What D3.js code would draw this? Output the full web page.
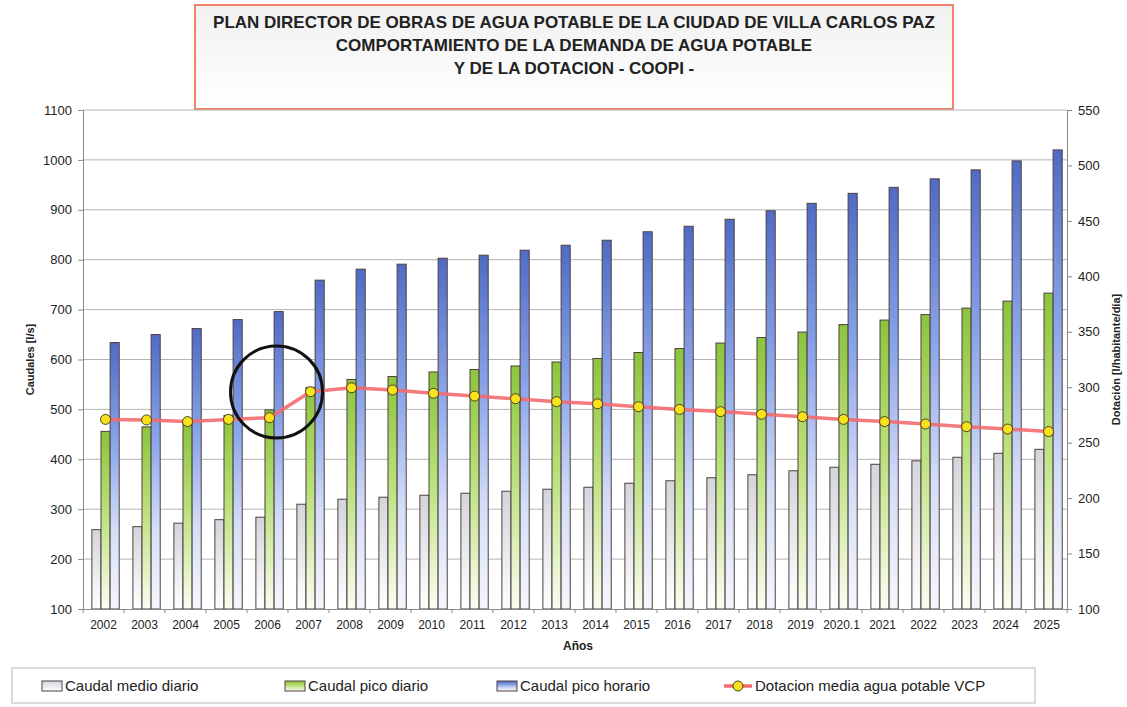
<!DOCTYPE html>
<html>
<head>
<meta charset="utf-8">
<script src="https://cdn.jsdelivr.net/npm/d3@7"></script>
<style>
  body { margin: 0; background: #fff; }
  text { font-family: "Liberation Sans", Arial, sans-serif; fill: #222; }
  .narrow { font-family: "Liberation Sans Narrow", "Arial Narrow", "Liberation Sans", Arial, sans-serif; }
</style>
</head>
<body>
<script>
var years = ['2002','2003','2004','2005','2006','2007','2008','2009','2010','2011','2012','2013',
             '2014','2015','2016','2017','2018','2019','2020.1','2021','2022','2023','2024','2025']
var medioDiario = [259,265,272,279,284,310,320,324,328,332,336,340,344,352,357,363,369,377,384,390,397,404,412,420]
var picoDiario = [456,465,472,488,499,544,560,566,575,580,587,595,602,614,622,633,644,655,670,679,690,703,717,733]
var picoHorario = [634,650,662,680,696,759,781,791,803,809,819,829,839,856,867,881,898,913,933,945,962,980,998,1020]
var dotacion = [271,270.5,269,271,272.5,296,299.5,297.5,294.5,292,289.6,287,285,282.4,280,278,275.6,273.4,271,269,266.8,264.4,262.3,260]
var leftTicks = [100,200,300,400,500,600,700,800,900,1000,1100]
var rightTicks = [100,150,200,250,300,350,400,450,500,550]
var seriesNames = ['Caudal medio diario', 'Caudal pico diario', 'Caudal pico horario']
var lineName = 'Dotacion media agua potable VCP'
var titleLines = ['PLAN DIRECTOR DE OBRAS DE AGUA POTABLE DE LA CIUDAD DE VILLA CARLOS PAZ',
                  'COMPORTAMIENTO DE LA DEMANDA DE AGUA POTABLE',
                  'Y DE LA DOTACION - COOPI -']

var width = 1127, height = 707
var margin = {top: 110, right: 60, bottom: 98, left: 83}
var x0 = margin.left, x1 = width - margin.right, yTop = margin.top, yBot = height - margin.bottom

var svg = d3.select('body').append('svg')
    .attr('width', width)
    .attr('height', height)

var defs = svg.append('defs')
// bar gradients, dark on top fading toward the base
var grads = [
    {id: 'gMedio', stops: [['0%', '#d4d5dc'], ['100%', '#ffffff']]},
    {id: 'gPico', stops: [['0%', '#8cc43c'], ['45%', '#b9e07a'], ['100%', '#fbfdf2']]},
    {id: 'gHora', stops: [['0%', '#4f6bc4'], ['40%', '#8ea8ea'], ['70%', '#d3ddf7'], ['100%', '#f6f7fc']]},
    {id: 'gTitle', stops: [['0%', '#f1f1f1'], ['100%', '#ffffff']]}
]
grads.forEach(g => {
    var lg = defs.append('linearGradient').attr('id', g.id)
        .attr('x1', 0).attr('y1', 0).attr('x2', 0).attr('y2', 1)
    g.stops.forEach(s => lg.append('stop').attr('offset', s[0]).attr('stop-color', s[1]))
})
var fills = ['url(#gMedio)', 'url(#gPico)', 'url(#gHora)']

// title box
svg.append('rect')
    .attr('x', 195).attr('y', 5).attr('width', 758).attr('height', 104)
    .attr('fill', 'url(#gTitle)')
    .attr('stroke', '#f2826a').attr('stroke-width', 2)
svg.selectAll('.title')
    .data(titleLines).enter()
    .append('text')
    .attr('class', 'title narrow')
    .attr('x', 574)
    .attr('y', (d, i) => 28 + i * 23)
    .attr('text-anchor', 'middle')
    .style('font-size', '17px')
    .style('font-weight', 'bold')
    .text(d => d)

var x = d3.scaleBand().domain(years).range([x0, x1])
var xs = d3.scaleBand().domain([0, 1, 2]).range([0, x.bandwidth()]).paddingOuter(0.75).align(0.65)
var yL = d3.scaleLinear().domain([100, 1100]).range([yBot, yTop])
var yR = d3.scaleLinear().domain([100, 550]).range([yBot, yTop])

// gridlines
svg.append('g')
    .selectAll('line')
    .data(leftTicks.slice(1)).enter()
    .append('line')
    .attr('x1', x0).attr('x2', x1)
    .attr('y1', d => yL(d)).attr('y2', d => yL(d))
    .attr('stroke', '#b4b4b4')

// bars
var table = years.map((yr, i) => ({year: yr, vals: [medioDiario[i], picoDiario[i], picoHorario[i]]}))
var groups = svg.append('g').selectAll('.grp')
    .data(table).enter()
    .append('g')
    .attr('transform', d => `translate(${x(d.year)},0)`)
groups.selectAll('rect')
    .data(d => d.vals).enter()
    .append('rect')
    .attr('x', (d, i) => xs(i))
    .attr('width', xs.bandwidth())
    .attr('y', d => yL(d))
    .attr('height', d => yBot - yL(d))
    .attr('fill', (d, i) => fills[i])
    .attr('stroke', '#4e3f40')
    .attr('stroke-width', 1)

// axes
var axL = svg.append('g')
    .attr('transform', `translate(${x0},0)`)
    .call(d3.axisLeft(yL).tickValues(leftTicks).tickFormat(d3.format('d')).tickSize(5).tickPadding(6))
var axR = svg.append('g')
    .attr('transform', `translate(${x1},0)`)
    .call(d3.axisRight(yR).tickValues(rightTicks).tickFormat(d3.format('d')).tickSize(5).tickPadding(6))
;[axL, axR].forEach(a => {
    a.selectAll('text').style('font-size', '13px').attr('fill', '#333')
    a.select('.domain').attr('stroke', '#8a8a8a')
    a.selectAll('.tick line').attr('stroke', '#8a8a8a')
})

var axB = svg.append('g')
    .attr('transform', `translate(0,${yBot})`)
    .call(d3.axisBottom(x).tickSize(0).tickPadding(11))
axB.select('.domain').attr('stroke', '#8a8a8a')
axB.selectAll('text').attr('class', 'narrow').style('font-size', '12px').attr('fill', '#333')
axB.selectAll('.sep')
    .data(years.concat(['end'])).enter()
    .append('line')
    .attr('x1', (d, i) => x0 + i * x.step()).attr('x2', (d, i) => x0 + i * x.step())
    .attr('y1', 0).attr('y2', 4)
    .attr('stroke', '#8a8a8a')

// axis titles
svg.append('text')
    .attr('x', 578).attr('y', 650)
    .attr('text-anchor', 'middle')
    .style('font-size', '12px').style('font-weight', 'bold')
    .text('Años')
svg.append('text')
    .attr('transform', `translate(34,${(yTop + yBot) / 2}) rotate(-90)`)
    .attr('text-anchor', 'middle')
    .style('font-size', '11px').style('font-weight', 'bold')
    .text('Caudales [l/s]')
svg.append('text')
    .attr('transform', `translate(1120,${(yTop + yBot) / 2}) rotate(-90)`)
    .attr('text-anchor', 'middle')
    .style('font-size', '11px').style('font-weight', 'bold')
    .text('Dotación [l/habitante/día]')

// dotacion line
var cx = (d, i) => x(years[i]) + xs(1) + xs.bandwidth() / 2
var line = d3.line().x(cx).y(d => yR(d))
svg.append('path')
    .datum(dotacion)
    .attr('d', line)
    .attr('fill', 'none')
    .attr('stroke', '#f26b6f')
    .attr('stroke-width', 3.5)
    .attr('stroke-opacity', 0.9)
svg.append('g').selectAll('circle')
    .data(dotacion).enter()
    .append('circle')
    .attr('cx', cx)
    .attr('cy', d => yR(d))
    .attr('r', 5)
    .attr('fill', '#f7e21c')
    .attr('stroke', '#4a4020')
    .attr('stroke-width', 1)

// hand-drawn annotation circle around 2006-2007 step
svg.append('circle')
    .attr('cx', x('2006') + x.bandwidth() * 0.72)
    .attr('cy', yL(535))
    .attr('r', 46)
    .attr('fill', 'none')
    .attr('stroke', '#111')
    .attr('stroke-width', 3)

// legend
var leg = svg.append('g')
leg.append('rect')
    .attr('x', 12).attr('y', 668).attr('width', 1023).attr('height', 35)
    .attr('fill', '#fff').attr('stroke', '#b8b8b8')
var legX = [42, 285, 497]
var items = leg.selectAll('.legend')
    .data(seriesNames).enter()
    .append('g')
    .attr('transform', (d, i) => `translate(${legX[i]},681)`)
items.append('rect')
    .attr('width', 20).attr('height', 10)
    .attr('fill', (d, i) => fills[i])
    .attr('stroke', '#4e3f40')
items.append('text')
    .attr('class', 'narrow')
    .attr('x', 23).attr('y', 10)
    .style('font-size', '15px')
    .text(String)
var lg = leg.append('g').attr('transform', 'translate(724,686)')
lg.append('line').attr('x1', 0).attr('x2', 28)
    .attr('stroke', '#f26b6f').attr('stroke-width', 3.5)
lg.append('circle').attr('cx', 14).attr('r', 5)
    .attr('fill', '#f7e21c').attr('stroke', '#4a4020')
lg.append('text')
    .attr('class', 'narrow')
    .attr('x', 31).attr('y', 5)
    .style('font-size', '15px')
    .text(lineName)
</script>
</body>
</html>
